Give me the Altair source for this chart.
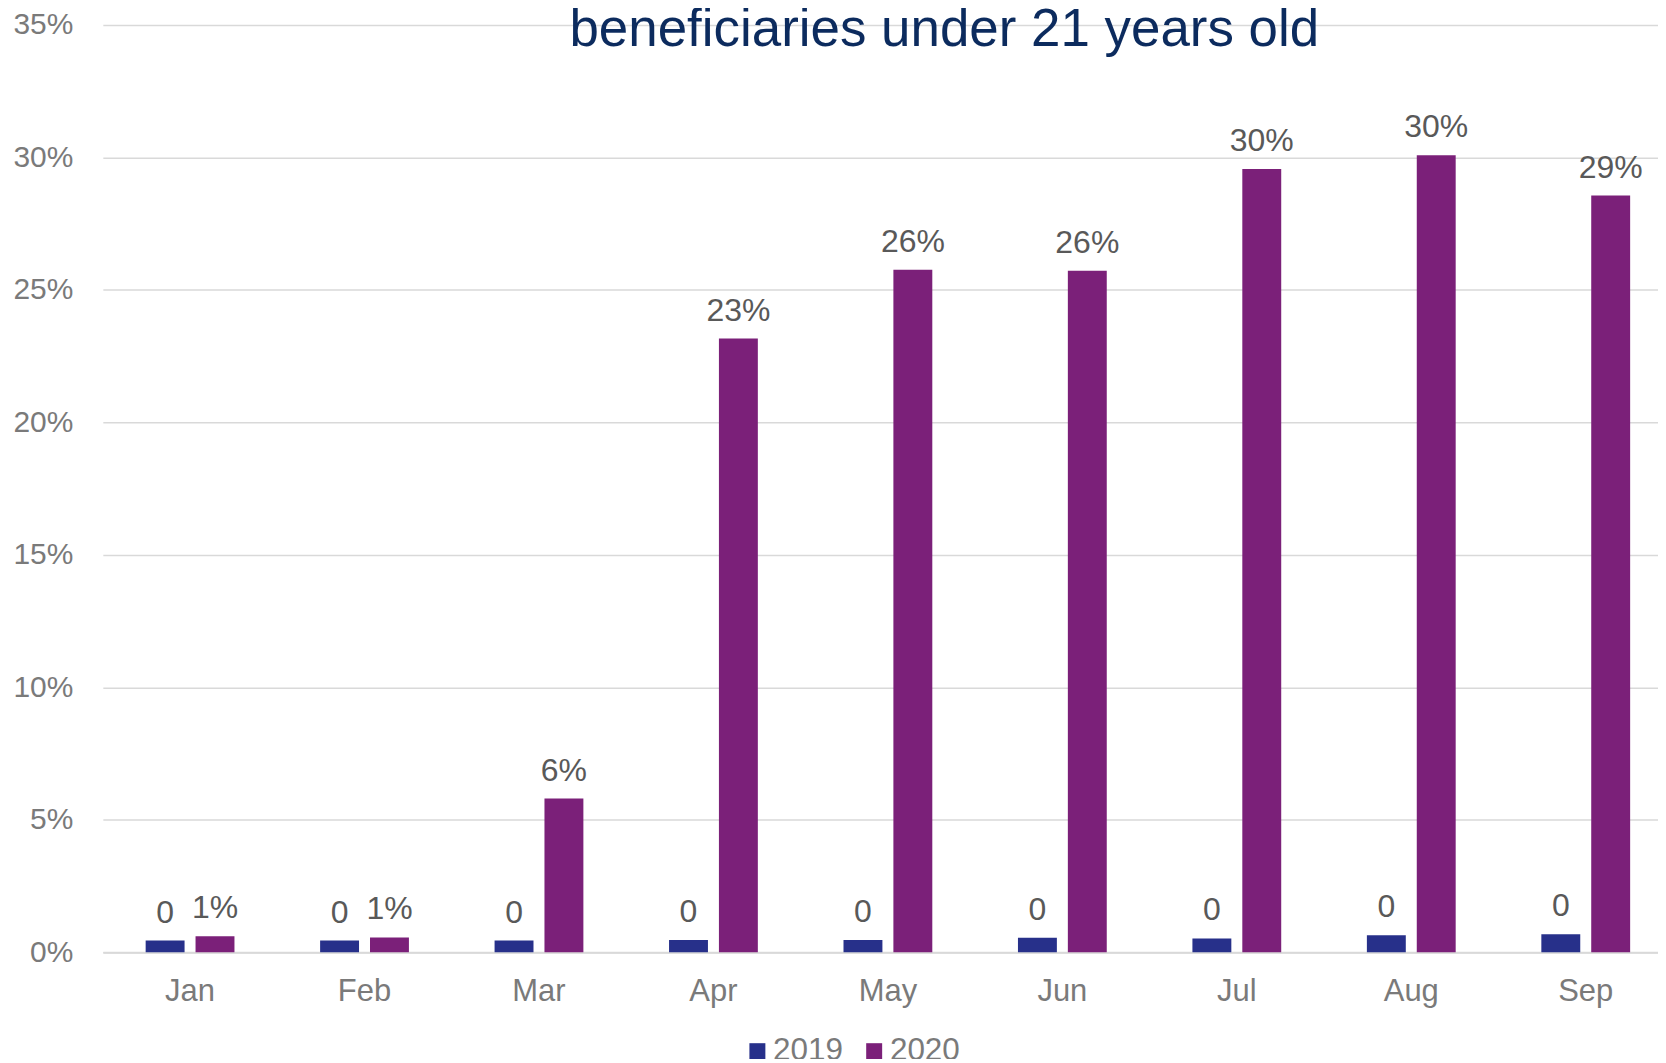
import altair as alt
import pandas as pd

months = ["Jan", "Feb", "Mar", "Apr", "May", "Jun", "Jul", "Aug", "Sep"]
years = ["2019", "2020"]
share_2019 = [0.44, 0.44, 0.44, 0.46, 0.46, 0.55, 0.52, 0.64, 0.68]
share_2020 = [0.60, 0.56, 5.80, 23.16, 25.76, 25.72, 29.56, 30.08, 28.56]
labels_2019 = ["0", "0", "0", "0", "0", "0", "0", "0", "0"]
labels_2020 = ["1%", "1%", "6%", "23%", "26%", "26%", "30%", "30%", "29%"]
y_ticks = [0, 5, 10, 15, 20, 25, 30, 35]
colors = ["#27308a", "#7b2079"]
title_text = "beneficiaries under 21 years old"

rows = []
for i, m in enumerate(months):
    rows.append({"month": m, "year": "2019", "value": share_2019[i], "label": labels_2019[i]})
    rows.append({"month": m, "year": "2020", "value": share_2020[i], "label": labels_2020[i]})
df = pd.DataFrame(rows)

FONT = "Liberation Sans"
GRAY = "#7a7a7a"

x_enc = alt.X(
    "month:N", sort=months, title=None,
    scale=alt.Scale(range=[0, 1573], paddingInner=0.491, paddingOuter=0.2455),
    axis=alt.Axis(labelAngle=0, labelFontSize=31, labelColor=GRAY, labelFont=FONT,
                  ticks=False, domainColor="#d9d9d9", domainWidth=2,
                  labelPadding=24, grid=False),
)
xo_enc = alt.XOffset("year:N", sort=years,
                     scale=alt.Scale(paddingInner=0.22, paddingOuter=0))
y_enc = alt.Y(
    "value:Q", title=None,
    scale=alt.Scale(domain=[0, 35], nice=False, zero=True),
    axis=alt.Axis(values=y_ticks, labelExpr="datum.value + '%'", labelFontSize=30,
                  labelColor=GRAY, labelFont=FONT, labelPadding=30, ticks=False,
                  domain=False, gridColor="#d9d9d9", gridWidth=1.5),
)
color_enc = alt.Color(
    "year:N", sort=years, title=None,
    scale=alt.Scale(domain=years, range=colors),
    legend=alt.Legend(orient="none", direction="horizontal", legendX=640, legendY=1012,
                      symbolType="square", symbolSize=256, symbolStrokeWidth=0,
                      symbolOpacity=1, labelFontSize=31.5, labelColor=GRAY,
                      labelFont=FONT, labelOffset=0, columnPadding=15, padding=0),
)

bars = alt.Chart(df).mark_bar().encode(x=x_enc, xOffset=xo_enc, y=y_enc, color=color_enc)
texts = alt.Chart(df).mark_text(
    baseline="alphabetic", dy=-18, fontSize=32, color="#595959", font=FONT
).encode(x=x_enc, xOffset=xo_enc, y=y_enc, text="label:N")

title_df = pd.DataFrame({"t": [title_text]})
title = alt.Chart(title_df).mark_text(
    fontSize=53, color="#0c2b5e", font=FONT, align="center", baseline="alphabetic"
).encode(text="t:N", x=alt.value(843), y=alt.value(21))

chart = alt.layer(bars, texts, title).properties(
    width=1558, height=929,
    background="white",
    autosize=alt.AutoSizeParams(type="none"),
    padding={"left": 95, "top": 16, "right": 0, "bottom": 106},
).configure_view(strokeWidth=0)

chart.save("out.html", embed_options={"renderer": "svg", "actions": False})
